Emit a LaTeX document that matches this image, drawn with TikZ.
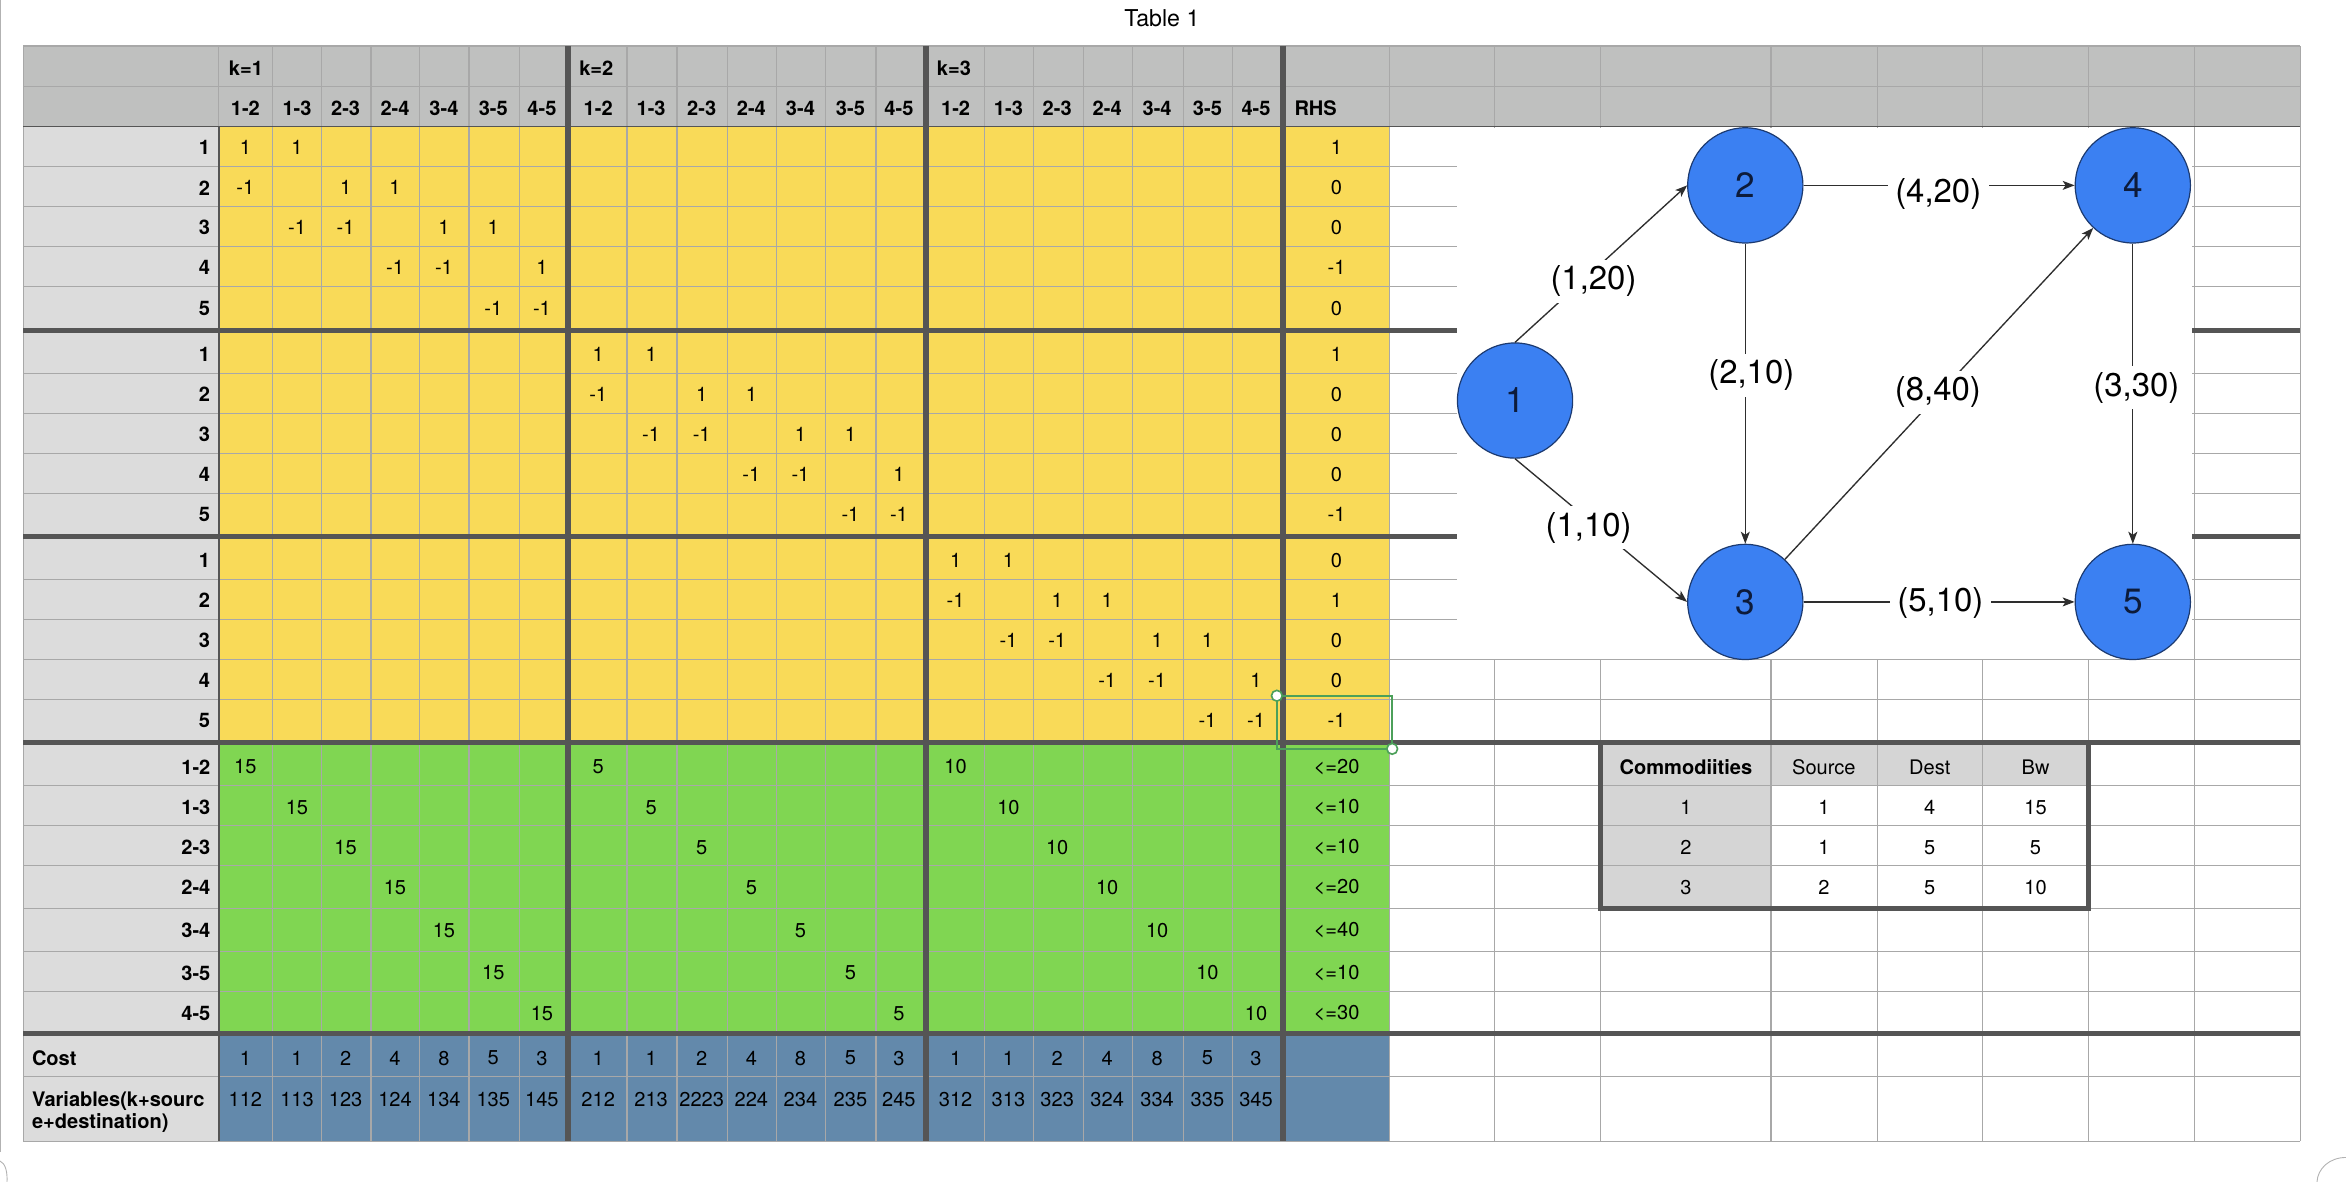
\documentclass[tikz,border=0pt]{standalone}
\usepackage{fontspec}
\setmainfont{TeX Gyre Heros}
\usetikzlibrary{arrows.meta}
\definecolor{hdrgray}{HTML}{BFC0BF}
\definecolor{lblgray}{HTML}{DCDCDC}
\definecolor{cellyellow}{HTML}{F9DA58}
\definecolor{cellgreen}{HTML}{80D652}
\definecolor{cellblue}{HTML}{6389AB}
\definecolor{gridgray}{HTML}{A8A8A8}
\definecolor{thickgray}{HTML}{555555}
\definecolor{commgray}{HTML}{D5D5D5}
\definecolor{nodeblue}{HTML}{3B80F2}
\definecolor{nodeline}{HTML}{1C3A70}
\definecolor{nodetext}{HTML}{0D1B3A}
\definecolor{edgegray}{HTML}{2E2E2E}
\definecolor{selgreen}{HTML}{4CA05A}
% cell centres of the spreadsheet
\def\colx{{164,198.5,231,264,296.7,329.7,362.2,399.8,435.2,469,502.2,535,568.4,600.8,638.7,674,706.6,740,773.4,807,839.5}}
\def\rowy{{98.8,125.5,152.2,178.9,206.1,236.8,263.6,290.3,317.1,344.1,374.6,401.3,428,454.8,481.8}}
\def\flowy{{512.5,539.6,566.4,593.2,621.8,650.3,677.2}}

\begin{document}
\begin{tikzpicture}[x=1pt, y=-1pt,
    val/.style={inner sep=0pt, font=\fontsize{13.4}{15}\selectfont},
    bold/.style={inner sep=0pt, font=\fontsize{13.4}{15}\selectfont\bfseries},
    gridline/.style={draw=gridgray, line width=0.8pt},
    thickline/.style={draw=thickgray, line width=3.6pt},
    vertex/.style={circle, draw=nodeline, line width=0.8pt, fill=nodeblue, minimum size=77pt,
        inner sep=0pt, text=nodetext, font=\fontsize{23.5}{25}\selectfont},
    link/.style={draw=edgegray, line width=0.9pt, -{Stealth[length=8pt, width=6pt, inset=2pt]}},
    flow/.style={fill=white, inner xsep=5pt, inner ysep=4pt, font=\fontsize{22}{24}\selectfont}]
    \useasboundingbox (0,0) rectangle (1568,790);

    % Cell colours
    \fill[hdrgray] (15.7,30.7) rectangle (1537.5,84.7);
    \fill[lblgray] (15.7,84.7) rectangle (146.3,762.7);
    \fill[cellyellow] (146.3,84.7) rectangle (928.5,496.4);
    \fill[cellgreen] (146.3,496.4) rectangle (928.5,690.8);
    \fill[cellblue] (146.3,690.8) rectangle (928.5,762.7);
    \fill[white] (928.5,84.7) rectangle (1537.5,762.7);
    \fill[commgray] (1069.5,496.4) rectangle (1396,525);
    \fill[commgray] (1069.5,525) rectangle (1183.7,607);

    % Grid
    \foreach \y in {30.7,58,84.7,111.5,138.2,164.9,191.6,221,249.5,276.3,303,329.8,358.7,387.3,414,440.7,467.5,496.4,525,552,578.5,607,636,662.8,690.8,719.7,762.7}
        \draw[gridline] (15.7,\y) -- (1537.5,\y);
    \foreach \x in {15.7,146.3,182,215,248,280.5,313.5,347,379.6,419,452.5,486,519,552,585.5,619,658,690.5,724,757,791,824,857.6,928.5,998.7,1069.5,1183.7,1254.7,1325,1396,1466.5,1537.5}
        \draw[gridline] (\x,30.7) -- (\x,762.7);
    \draw[thickgray, line width=1pt] (15.7,84.7) -- (1537.5,84.7);
    \draw[thickgray, line width=0.9pt] (146.3,84.7) -- (146.3,762.7);
    \foreach \x in {379.6,619,857.6}
        \draw[thickline, line width=4pt] (\x,30.7) -- (\x,762.7);
    \foreach \y in {221,358.7,496.4,690.8}
        \draw[thickline] (15.7,\y) -- (1537.5,\y);

    % Header
    \foreach \kx [count=\k] in {152.8,387,626}
        \node[bold, anchor=west] (k\k) at (\kx,45.5) {k=\k};
    \foreach \bk in {0,1,2}
        \foreach \e [count=\i from 0] in {1-2,1-3,2-3,2-4,3-4,3-5,4-5} {
            \pgfmathtruncatemacro\ci{7*\bk+\i}
            \pgfmathsetmacro\cx{\colx[\ci]}
            \node[bold] (h\bk-\i) at (\cx,72.3) {\e};
        }
    \node[bold, anchor=west] (rhs) at (865,72.3) {RHS};

    % Flow conservation rows
    \foreach \bk in {0,1,2}
        \foreach \rw/\cl/\vl in {1/1/1,1/2/1,2/1/-1,2/3/1,2/4/1,3/2/-1,3/3/-1,3/5/1,3/6/1,4/4/-1,4/5/-1,4/7/1,5/6/-1,5/7/-1} {
            \pgfmathtruncatemacro\ci{7*\bk+\cl-1}
            \pgfmathtruncatemacro\ri{5*\bk+\rw-1}
            \pgfmathsetmacro\cx{\colx[\ci]}
            \pgfmathsetmacro\cy{\rowy[\ri]}
            \node[val] (y\bk-\rw-\cl) at (\cx,\cy) {\vl};
        }
    \foreach \vl [count=\i from 0] in {1,0,0,-1,0,1,0,0,0,-1,0,1,0,0,-1} {
        \pgfmathsetmacro\cy{\rowy[\i]}
        \pgfmathtruncatemacro\rn{mod(\i,5)+1}
        \node[bold, anchor=east] (row\i) at (140.6,\cy) {\rn};
        \node[val] (rhs\i) at (893.3,\cy) {\vl};
    }

    % Capacity rows
    \foreach \e/\cp [count=\i from 0] in {1-2/20,1-3/10,2-3/10,2-4/20,3-4/40,3-5/10,4-5/30} {
        \pgfmathsetmacro\cy{\flowy[\i]}
        \node[bold, anchor=east] (arc\i) at (140.8,\cy) {\e};
        \foreach \bk/\w in {0/15,1/5,2/10} {
            \pgfmathtruncatemacro\ci{7*\bk+\i}
            \pgfmathsetmacro\cx{\colx[\ci]}
            \node[val] (g\bk-\i) at (\cx,\cy) {\w};
        }
        \node[val] (cap\i) at (893.3,\cy) {<=\cp};
    }

    % Cost and variables
    \node[bold, anchor=west] (costlbl) at (21.2,707.2) {Cost};
    \node[bold, anchor=base west] (varlbl) at (21.2,739.5) {Variables(k+sourc};
    \node[bold, anchor=base west] (varlbl2) at (21.2,754) {e+destination)};
    \foreach \vl [count=\i from 0] in {1,1,2,4,8,5,3,1,1,2,4,8,5,3,1,1,2,4,8,5,3} {
        \pgfmathsetmacro\cx{\colx[\i]}
        \node[val] (cost\i) at (\cx,707.2) {\vl};
    }
    \foreach \vl [count=\i from 0] in {112,113,123,124,134,135,145,212,213,2223,224,234,235,245,312,313,323,324,334,335,345} {
        \pgfmathsetmacro\cx{\colx[\i]}
        \node[val, anchor=base] (var\i) at (\cx,739.5) {\vl};
    }

    % Network picture
    \fill[white] (974,85.4) rectangle (1465,440.7);
    \node[vertex] (n1) at (1012.6,267.7) {1};
    \node[vertex] (n2) at (1166.5,123.9) {2};
    \node[vertex] (n3) at (1166.5,402.3) {3};
    \node[vertex] (n4) at (1425.5,123.9) {4};
    \node[vertex] (n5) at (1425.5,402.3) {5};
    \draw[link] (n1.north) -- node[flow, pos=0.456, yshift=-7pt] {(1,20)} (n2.west);
    \draw[link] (n1.south) -- node[flow, pos=0.428, yshift=-5pt] {(1,10)} (n3.west);
    \draw[link] (n2) -- node[flow, pos=0.497, yshift=-5.6pt] {(4,20)} (n4);
    \draw[link] (n2) -- node[flow, pos=0.438, xshift=4pt] {(2,10)} (n3);
    \draw[link] (n3) -- node[flow, pos=0.496, yshift=1.8pt] {(8,40)} (n4);
    \draw[link] (n4) -- node[flow, pos=0.48, xshift=2.4pt] {(3,30)} (n5);
    \draw[link] (n3) -- node[flow, pos=0.505, yshift=-0.6pt] {(5,10)} (n5);

    % Commodities
    \node[bold] (chead) at (1126.8,512.8) {Commodiities};
    \node[val] (shead) at (1219,512.8) {Source};
    \node[val] (dhead) at (1289.8,512.8) {Dest};
    \node[val] (bhead) at (1360.5,512.8) {Bw};
    \foreach \com/\srcn/\dstn/\bwn [count=\i] in {1/1/4/15,2/1/5/5,3/2/5/10} {
        \pgfmathsetmacro\cy{\flowy[\i]}
        \node[val] (com\i) at (1126.8,\cy) {\com};
        \node[val] (src\i) at (1219,\cy) {\srcn};
        \node[val] (dst\i) at (1289.8,\cy) {\dstn};
        \node[val] (bwn\i) at (1360.5,\cy) {\bwn};
    }
    \draw[thickgray, line width=3.5pt] (1069.5,496.4) rectangle (1396,607);

    % Selected cell
    \draw[selgreen, line width=1.1pt] (853.4,465) rectangle (930.5,500.5);
    \draw[selgreen, line width=1.1pt, fill=white] (853.4,465) circle (3.6pt) (930.5,500.5) circle (3.6pt);

    % Title and window edges
    \node[inner sep=0pt, font=\fontsize{15.5}{17}\selectfont] (title) at (776.6,12.3) {Table 1};
    \draw[gray!60, line width=0.6pt] (0.5,0) -- (0.5,770);
    \draw[gray!60, line width=0.6pt] (0,776) .. controls (3.6,777.5) and (5,783) .. (4.7,790);
    \draw[gray!60, line width=0.6pt] (1568,773.6) .. controls (1557,773.6) and (1549,781) .. (1548.6,790);
\end{tikzpicture}
\end{document}
